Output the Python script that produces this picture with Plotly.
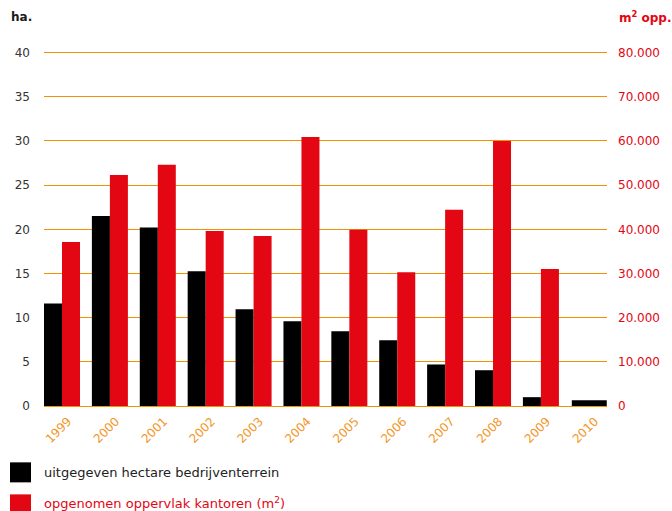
import plotly.graph_objects as go

years = ["1999", "2000", "2001", "2002", "2003", "2004", "2005", "2006", "2007", "2008", "2009", "2010"]
hectare = [11.6, 21.5, 20.2, 15.25, 10.95, 9.6, 8.45, 7.45, 4.7, 4.05, 1.0, 0.65]
kantoren_m2 = [37100, 52300, 54600, 39600, 38500, 60900, 39900, 30300, 44400, 60000, 31000, 0]

left_ticks = [0, 5, 10, 15, 20, 25, 30, 35, 40]
right_ticks = [0, 10000, 20000, 30000, 40000, 50000, 60000, 70000, 80000]

BLACK = "#000000"
RED = "#E30613"
ORANGE = "rgb(243,146,0)"
YEARCOL = "rgb(243,150,40)"
GREY = "#333333"
FONT = "DejaVu Sans, Verdana, sans-serif"
FS = 12

W, H = 672, 511
L, R, T, B = 44, 65, 50.0, 105.3
pw, ph = W - L - R, H - T - B
ytop = 40 * ph / (ph - (52.6 - T))

def px(x):
    return (x - L) / pw

def py(y):
    return (H - B - y) / ph

bw = 0.376
black_w = [bw] * (len(years) - 1) + [0.73]
black_off = [-bw] * (len(years) - 1) + [-0.355]

fig = go.Figure()
fig.add_trace(go.Bar(x=years, y=hectare, marker_color=BLACK, marker_line_width=0,
                     width=black_w, offset=black_off, yaxis="y", name="ha"))
fig.add_trace(go.Bar(x=years, y=kantoren_m2, marker_color=RED, marker_line_width=0,
                     width=bw, offset=0, yaxis="y2", name="m2"))

fig.update_layout(
    template="none",
    width=W, height=H,
    margin=dict(l=L, r=R, t=T, b=B, autoexpand=False),
    plot_bgcolor="white", paper_bgcolor="white",
    barmode="overlay",
    showlegend=False,
    separators=",.",
    font=dict(family=FONT, size=FS, color=GREY),
    xaxis=dict(type="category", range=[-0.376, 11.38], showgrid=False, zeroline=False,
               showline=False, ticks="", tickangle=-45, ticklabelshift=6,
               ticklabelstandoff=5,
               tickfont=dict(color=YEARCOL, size=12)),
    yaxis=dict(range=[0, ytop], tickvals=left_ticks, showgrid=True, gridcolor=ORANGE,
               gridwidth=1.2, zeroline=True, zerolinecolor=ORANGE, zerolinewidth=1.2,
               showline=False, ticks="", ticklabelstandoff=13,
               tickfont=dict(color=GREY, size=FS)),
    yaxis2=dict(range=[0, ytop * 2000], tickvals=right_ticks, tickformat=",d", overlaying="y",
                side="right", showgrid=False, gridcolor=ORANGE, zeroline=False,
                showline=False, ticks="",
                ticklabelstandoff=10, tickfont=dict(color=RED, size=FS)),
)

annotations = [
    dict(text="<b>ha.</b>", x=px(9), y=py(17), xref="paper", yref="paper",
         xanchor="left", yanchor="middle", showarrow=False,
         font=dict(family=FONT, size=FS, color="#1a1a1a")),
    dict(text="<b>m<sup>2</sup> opp.</b>", x=px(617), y=py(17), xref="paper", yref="paper",
         xanchor="left", yanchor="middle", showarrow=False,
         font=dict(family=FONT, size=FS, color=RED)),
    dict(text="uitgegeven hectare bedrijventerrein", x=px(42), y=py(472.5), xref="paper",
         yref="paper", xanchor="left", yanchor="middle", showarrow=False,
         font=dict(family=FONT, size=13, color="#222222")),
    dict(text="opgenomen oppervlak kantoren (m<sup>2</sup>)", x=px(42), y=py(502.5),
         xref="paper", yref="paper", xanchor="left", yanchor="middle", showarrow=False,
         font=dict(family=FONT, size=13, color=RED)),
]
shapes = [
    dict(type="rect", xref="paper", yref="paper", x0=px(10), x1=px(31), y0=py(482), y1=py(462),
         fillcolor=BLACK, line_width=0),
    dict(type="rect", xref="paper", yref="paper", x0=px(10), x1=px(31), y0=py(514), y1=py(494),
         fillcolor=RED, line_width=0),
]
fig.update_layout(annotations=annotations, shapes=shapes)

fig.write_html("out.html", post_script="document.body.style.margin='0';",
               config={"displayModeBar": False})
